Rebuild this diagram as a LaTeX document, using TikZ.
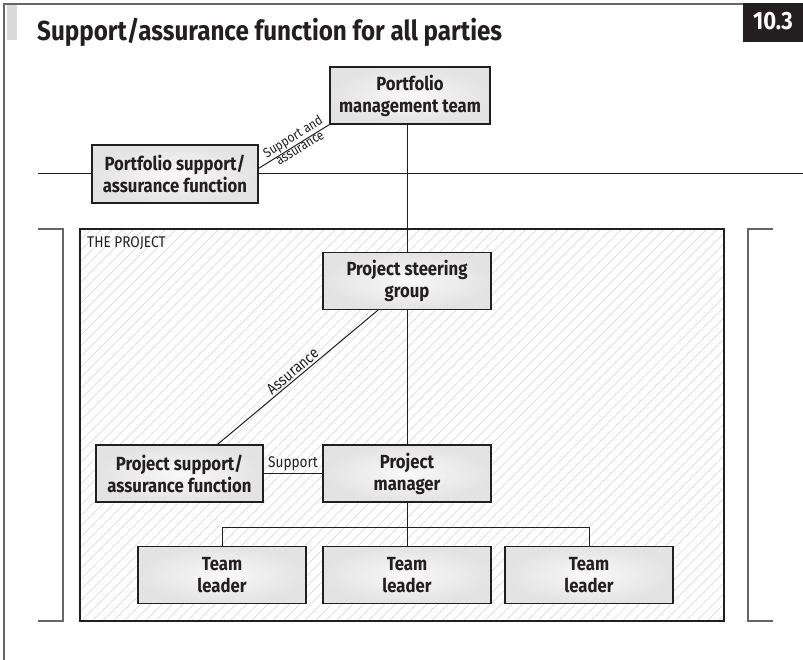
\documentclass[tikz,border=0pt]{standalone}
\usepackage{fontspec}
\setmainfont{Fira Sans}[FakeStretch=0.88]
\usetikzlibrary{patterns.meta}
\definecolor{ink}{HTML}{231F20}
\definecolor{frame}{HTML}{666666}
\tikzset{
  box/.style={draw=ink, line width=1.2pt, inner color=gray!5, outer color=gray!22,
    shade, minimum width=#1, minimum height=57pt, align=center, inner sep=2pt,
    font=\fontsize{19}{22}\selectfont\bfseries, text=ink},
  box/.default=168pt,
  conn/.style={draw=ink, line width=1pt},
  brk/.style={draw=frame, line width=1.4pt},
  lbl/.style={font=\fontsize{15.5}{16}\selectfont, text=ink},
  slbl/.style={font=\fontsize{13.5}{13}\selectfont, text=ink, sloped, inner sep=1pt},
}
\begin{document}
\begin{tikzpicture}[x=1pt,y=-1pt]
\useasboundingbox (0,0) rectangle (803,660);
% frame
\fill[gray!30] (7,5) rectangle (17,40);
\draw[frame, line width=1.4pt] (4,660) -- (4,4) -- (743,4);
\fill[ink] (743,3) rectangle (803,42);
\node[text=white, font=\fontsize{25}{25}\selectfont\bfseries, inner sep=0pt] (num) at (773,21) {10.3};
\node[anchor=base west, font=\fontsize{27.5}{28}\selectfont\bfseries, text=ink, inner sep=0pt] (title) at (37,41) {Support/assurance function for all parties};
% project area
\path[pattern={Lines[angle=45,distance=7.5pt,line width=0.7pt]}, pattern color=gray!28]
  (80,229) rectangle (724,621);
\draw[draw=ink, line width=1.2pt] (80,229) rectangle (724,621);
\node[lbl, anchor=west, inner sep=0pt] (proj) at (87,243) {THE PROJECT};
% brackets
\draw[brk] (38,229) -- (63,229) -- (63,621) -- (38,621);
\draw[brk] (773,229) -- (748,229) -- (748,621) -- (773,621);
% boundary line
\coordinate (hl) at (38,174);
\coordinate (hr) at (803,174);
\draw[conn] (hl) -- (hr);
% nodes
\node[box=160pt] (pmt) at (410,95.5) {Portfolio\\management team};
\node[box=166pt, minimum height=58pt] (psa) at (175,174) {Portfolio support/\\assurance function};
\node[box] (psg) at (407,281) {Project steering\\group};
\node[box] (pm) at (407,473.5) {Project\\manager};
\node[box=167pt] (pjsa) at (179.5,473.5) {Project support/\\assurance function};
\node[box] (tl1) at (222,575) {Team\\leader};
\node[box] (tl2) at (407,575) {Team\\leader};
\node[box] (tl3) at (589,575) {Team\\leader};
% connectors
\draw[conn] (pmt.south -| psg.north) -- (psg.north);
\draw[conn] (psg) -- (pm);
\draw[conn] (pjsa) -- node[lbl, above=1pt, inner sep=1pt] {Support} (pm);
\draw[conn] ([xshift=-29pt]psg.south) -- node[slbl, font=\fontsize{15.5}{16}\selectfont, pos=0.5, above=1pt] {Assurance} ([xshift=38pt]pjsa.north);
\draw[conn] ([yshift=-24pt]psa.north east) -- node[slbl, pos=0.55, above] {Support and}
  node[slbl, pos=0.55, below] {assurance} (pmt.south west);
\coordinate (j) at (407,527);
\draw[conn] (pm) -- (j);
\draw[conn] (tl1.north) -- (tl1.north |- j) -- (tl3.north |- j) -- (tl3.north);
\draw[conn] (j) -- (tl2.north);
\end{tikzpicture}
\end{document}
